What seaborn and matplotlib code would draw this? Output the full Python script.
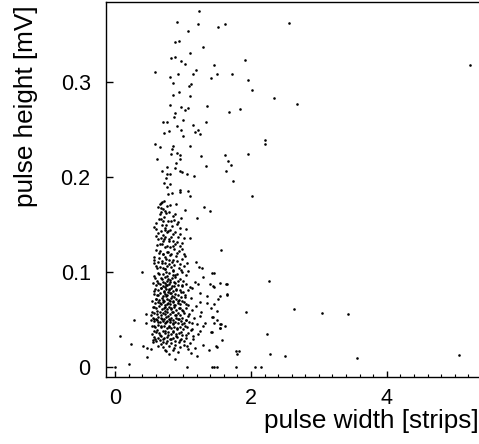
import pandas as pd
import matplotlib
matplotlib.use("Agg")
import matplotlib.pyplot as plt
from matplotlib.ticker import MultipleLocator
import seaborn as sns

# (pulse width [strips], pulse height [mV])

# sparse tail above ~0.17 mV
upper_tail = [
    (1.229, 0.375), (0.917, 0.3635), (1.224, 0.361), (1.512, 0.358), (1.615, 0.361),
    (2.556, 0.3625), (1.073, 0.354), (0.878, 0.342), (0.941, 0.343), (1.298, 0.337),
    (1.098, 0.331), (0.829, 0.325), (0.878, 0.326), (1.907, 0.323), (0.966, 0.3225),
    (1.024, 0.319), (1.463, 0.3175), (5.22, 0.3175), (0.590, 0.310), (1.195, 0.313),
    (1.498, 0.308), (1.722, 0.308), (0.927, 0.308), (1.146, 0.308), (0.815, 0.305),
    (1.410, 0.304), (1.951, 0.302), (0.854, 0.2985), (1.112, 0.298), (1.088, 0.296),
    (0.946, 0.2895), (2.02, 0.292), (0.854, 0.2865), (1.098, 0.285), (2.346, 0.2835),
    (2.678, 0.277), (0.805, 0.2755), (0.971, 0.274), (1.361, 0.2745), (1.078, 0.2725),
    (1.024, 0.271), (1.844, 0.2715), (1.678, 0.268), (0.888, 0.267), (1.34, 0.258),
    (0.873, 0.263), (1.0, 0.26), (0.707, 0.258), (0.766, 0.258), (0.907, 0.254),
    (1.146, 0.255), (0.976, 0.25), (1.224, 0.25), (0.727, 0.246), (0.79, 0.248),
    (1.171, 0.247), (1.254, 0.245), (1.005, 0.243), (2.205, 0.2385), (2.2, 0.2345),
    (0.595, 0.2345), (0.668, 0.232), (0.849, 0.233), (0.839, 0.229), (1.102, 0.233),
    (0.824, 0.2245), (0.907, 0.225), (0.951, 0.2235), (1.615, 0.2235), (1.956, 0.2245),
    (1.259, 0.2225), (0.624, 0.219), (0.961, 0.219), (1.659, 0.217), (0.902, 0.215),
    (1.712, 0.2125), (1.341, 0.2115), (0.771, 0.211), (0.888, 0.21), (0.693, 0.206),
    (0.956, 0.206), (0.99, 0.205), (1.634, 0.2065), (0.771, 0.203), (0.815, 0.203),
    (1.161, 0.2015), (1.059, 0.203), (0.756, 0.199), (1.737, 0.1955), (0.727, 0.1935),
    (0.815, 0.1925), (0.771, 0.189), (0.961, 0.1865), (1.078, 0.185), (0.834, 0.183),
    (0.78, 0.182), (2.01, 0.1795), (0.951, 0.184), (1.098, 0.1795), (0.693, 0.174),
    (0.673, 0.173), (0.722, 0.1745), (0.659, 0.172), (0.902, 0.172), (0.815, 0.1705),
]

# main cluster
core = [
    (1.312, 0.168), (1.395, 0.164), (1.034, 0.165), (0.678, 0.167), (0.737, 0.164),
    (0.756, 0.162), (0.683, 0.163), (0.849, 0.159), (0.966, 0.157), (1.21, 0.1565),
    (0.644, 0.156), (0.707, 0.154), (0.785, 0.154), (0.868, 0.155), (0.907, 0.151),
    (0.571, 0.147), (0.605, 0.145), (0.737, 0.146), (0.815, 0.1445), (1.039, 0.145),
    (0.678, 0.143), (0.761, 0.142), (0.888, 0.142), (0.961, 0.1395), (0.829, 0.137),
    (1.102, 0.1355), (0.634, 0.1345), (0.722, 0.1345), (0.8, 0.1325), (0.917, 0.132),
    (1.02, 0.136), (0.668, 0.13), (0.741, 0.126), (0.854, 0.1275), (1.561, 0.1235),
    (0.61, 0.1235), (0.668, 0.122), (0.78, 0.1215), (0.907, 0.1205), (0.98, 0.1245),
    (0.702, 0.1185), (0.815, 0.1175), (0.649, 0.1145), (0.756, 0.1135), (0.854, 0.113),
    (1.034, 0.1165), (1.185, 0.1105), (0.58, 0.1095), (0.688, 0.109), (0.795, 0.108),
    (0.951, 0.108), (1.239, 0.105), (1.283, 0.104), (0.615, 0.104), (0.737, 0.103),
    (0.854, 0.102), (0.976, 0.102), (0.405, 0.100), (1.429, 0.099), (0.649, 0.098),
    (0.766, 0.096), (0.888, 0.097), (1.049, 0.097), (0.59, 0.0935), (0.698, 0.0925),
    (0.815, 0.092), (0.927, 0.091), (1.224, 0.0875), (1.4, 0.087), (0.634, 0.088),
    (0.746, 0.0865), (0.863, 0.0855), (0.985, 0.0865), (0.683, 0.083), (0.79, 0.082),
    (0.902, 0.0815), (1.439, 0.085), (1.132, 0.083), (0.571, 0.080), (0.717, 0.0785),
    (0.824, 0.078), (0.966, 0.079), (1.244, 0.078), (1.644, 0.0765), (0.639, 0.076),
    (0.756, 0.0745), (0.863, 0.0735), (1.029, 0.0735), (0.61, 0.0715), (0.712, 0.071),
    (0.805, 0.070), (0.927, 0.0695), (1.517, 0.072), (0.668, 0.0675), (0.766, 0.066),
    (0.873, 0.0655), (1.039, 0.0665), (1.351, 0.0675), (0.561, 0.063), (0.717, 0.062),
    (0.824, 0.062), (0.951, 0.0625), (1.195, 0.064), (1.41, 0.0625), (0.615, 0.059),
    (0.741, 0.0585), (0.849, 0.0575), (1.0, 0.0585), (1.502, 0.0585), (0.454, 0.056),
    (0.537, 0.0545), (0.673, 0.055), (0.785, 0.054), (0.898, 0.0545), (1.078, 0.054),
    (1.244, 0.0535), (1.439, 0.0525), (0.571, 0.051), (0.698, 0.0505), (0.815, 0.050),
    (0.932, 0.0505), (1.049, 0.049), (0.283, 0.049), (0.634, 0.047), (0.746, 0.047),
    (0.859, 0.046), (0.99, 0.0455), (1.137, 0.0465), (1.541, 0.0455), (0.463, 0.0465),
    (0.571, 0.043), (0.683, 0.043), (0.795, 0.042), (0.912, 0.0415), (1.029, 0.043),
    (1.302, 0.0435), (1.541, 0.041), (0.62, 0.0385), (0.732, 0.038), (0.854, 0.038),
    (0.976, 0.037), (1.117, 0.0385), (1.429, 0.037), (0.551, 0.0345), (0.663, 0.034),
    (0.78, 0.0335), (0.893, 0.033), (1.049, 0.034), (1.22, 0.035), (0.073, 0.033),
    (0.59, 0.030), (0.707, 0.0295), (0.824, 0.029), (0.951, 0.028), (1.146, 0.0295),
    (0.229, 0.0245), (0.561, 0.026), (0.678, 0.0245), (0.756, 0.025), (0.888, 0.0235),
    (1.01, 0.023), (1.302, 0.0235), (0.415, 0.022), (0.473, 0.020), (0.537, 0.019),
    (0.732, 0.018), (0.854, 0.0175), (1.073, 0.019), (1.39, 0.018), (1.488, 0.022),
    (0.478, 0.011), (0.795, 0.014), (1.21, 0.012), (0.878, 0.0085),
    # denser fill
    (0.63, 0.168), (0.70, 0.166), (0.76, 0.169), (0.66, 0.161), (0.72, 0.158),
    (0.80, 0.163), (0.88, 0.161), (0.61, 0.152), (0.69, 0.150), (0.75, 0.149),
    (0.84, 0.148), (0.92, 0.153), (0.64, 0.141), (0.71, 0.139), (0.78, 0.143),
    (0.86, 0.140), (0.95, 0.146), (0.68, 0.1555), (0.82, 0.1535), (0.74, 0.1445),
    (0.60, 0.138), (0.67, 0.136), (0.73, 0.137), (0.79, 0.135), (0.85, 0.133),
    (0.93, 0.137), (0.99, 0.131), (0.62, 0.128), (0.69, 0.129), (0.76, 0.127),
    (0.81, 0.126), (0.88, 0.129), (0.96, 0.127), (0.65, 0.120), (0.71, 0.119),
    (0.77, 0.121), (0.83, 0.119), (0.90, 0.117), (1.01, 0.119), (0.58, 0.116),
    (0.74, 0.116), (0.87, 0.124), (0.70, 0.1325), (0.94, 0.122),
    (0.57, 0.113), (0.63, 0.111), (0.69, 0.112), (0.74, 0.110), (0.79, 0.113),
    (0.84, 0.111), (0.91, 0.112), (0.98, 0.114), (1.06, 0.110), (0.60, 0.106),
    (0.66, 0.105), (0.71, 0.104), (0.77, 0.106), (0.82, 0.105), (0.87, 0.107),
    (0.94, 0.104), (1.02, 0.106), (0.64, 0.099), (0.70, 0.098), (0.75, 0.100),
    (0.80, 0.099), (0.86, 0.101), (0.91, 0.098), (0.99, 0.100), (1.08, 0.101),
    (0.58, 0.096), (0.67, 0.094), (0.73, 0.095), (0.78, 0.093), (0.84, 0.094),
    (0.89, 0.095), (0.96, 0.093), (0.62, 0.091), (0.71, 0.090), (0.76, 0.091),
    (0.81, 0.089), (0.87, 0.090), (1.00, 0.091), (0.74, 0.103), (0.85, 0.097),
    (0.56, 0.088), (0.61, 0.086), (0.66, 0.087), (0.70, 0.085), (0.73, 0.088),
    (0.77, 0.086), (0.80, 0.087), (0.84, 0.085), (0.88, 0.088), (0.93, 0.086),
    (0.98, 0.085), (1.04, 0.087), (1.10, 0.084), (0.59, 0.082), (0.64, 0.081),
    (0.68, 0.083), (0.72, 0.080), (0.75, 0.082), (0.79, 0.081), (0.82, 0.083),
    (0.86, 0.080), (0.90, 0.082), (0.95, 0.081), (1.00, 0.079), (1.07, 0.081),
    (0.57, 0.077), (0.62, 0.076), (0.66, 0.078), (0.70, 0.075), (0.74, 0.077),
    (0.77, 0.076), (0.81, 0.078), (0.84, 0.075), (0.88, 0.077), (0.92, 0.076),
    (0.97, 0.074), (1.03, 0.076), (0.60, 0.072), (0.65, 0.071), (0.69, 0.073),
    (0.72, 0.070), (0.76, 0.072), (0.79, 0.071), (0.83, 0.073), (0.86, 0.070),
    (0.90, 0.072), (0.94, 0.071), (0.99, 0.070), (1.12, 0.073), (0.74, 0.084),
    (0.78, 0.079),
    (0.55, 0.069), (0.59, 0.067), (0.63, 0.068), (0.67, 0.066), (0.71, 0.068),
    (0.74, 0.065), (0.78, 0.067), (0.81, 0.066), (0.85, 0.068), (0.88, 0.065),
    (0.92, 0.067), (0.96, 0.066), (1.01, 0.068), (1.08, 0.065), (0.57, 0.063),
    (0.61, 0.062), (0.65, 0.064), (0.69, 0.061), (0.73, 0.063), (0.76, 0.061),
    (0.80, 0.063), (0.83, 0.061), (0.87, 0.063), (0.90, 0.060), (0.94, 0.062),
    (0.98, 0.060), (1.05, 0.062), (1.14, 0.060), (0.54, 0.058), (0.58, 0.057),
    (0.62, 0.056), (0.66, 0.058), (0.70, 0.057), (0.74, 0.056), (0.77, 0.058),
    (0.81, 0.056), (0.84, 0.058), (0.88, 0.055), (0.92, 0.057), (0.96, 0.055),
    (1.02, 0.057), (1.09, 0.056), (0.56, 0.052), (0.60, 0.051), (0.64, 0.053),
    (0.68, 0.052), (0.72, 0.051), (0.75, 0.053), (0.79, 0.051), (0.82, 0.052),
    (0.86, 0.050), (0.90, 0.052), (0.94, 0.051), (0.99, 0.052), (1.05, 0.050),
    (1.17, 0.052),
    (0.53, 0.049), (0.58, 0.048), (0.62, 0.049), (0.66, 0.047), (0.70, 0.048),
    (0.74, 0.046), (0.77, 0.048), (0.81, 0.047), (0.85, 0.045), (0.89, 0.047),
    (0.93, 0.046), (0.97, 0.048), (1.02, 0.046), (1.09, 0.047), (1.20, 0.045),
    (0.55, 0.043), (0.59, 0.042), (0.64, 0.044), (0.68, 0.042), (0.72, 0.043),
    (0.76, 0.041), (0.80, 0.043), (0.83, 0.041), (0.87, 0.042), (0.91, 0.040),
    (0.95, 0.042), (1.00, 0.040), (1.06, 0.042), (1.14, 0.040), (0.57, 0.038),
    (0.61, 0.037), (0.65, 0.036), (0.70, 0.038), (0.74, 0.036), (0.78, 0.037),
    (0.82, 0.035), (0.86, 0.037), (0.90, 0.035), (0.94, 0.036), (0.99, 0.034),
    (1.08, 0.036), (1.25, 0.038), (0.58, 0.032), (0.63, 0.031), (0.68, 0.033),
    (0.72, 0.031), (0.77, 0.032), (0.81, 0.030), (0.86, 0.031), (0.91, 0.032),
    (0.97, 0.030), (1.04, 0.031), (1.15, 0.033),
    (0.56, 0.028), (0.61, 0.027), (0.66, 0.028), (0.71, 0.026), (0.76, 0.027),
    (0.82, 0.025), (0.88, 0.027), (0.94, 0.026), (1.02, 0.027), (1.11, 0.025),
    (0.64, 0.022), (0.70, 0.021), (0.79, 0.022), (0.87, 0.020), (0.96, 0.021),
    (1.06, 0.022), (1.18, 0.020), (0.75, 0.017), (0.93, 0.016), (1.12, 0.015),
    (1.30, 0.095), (1.36, 0.075), (1.45, 0.066), (1.55, 0.088), (1.27, 0.058),
    (1.33, 0.046), (1.50, 0.050), (1.62, 0.043), (1.18, 0.090), (1.25, 0.068),
    (1.45, 0.099), (1.46, 0.084), (1.65, 0.087), (1.65, 0.076), (1.54, 0.075),
    (1.43, 0.0525), (1.46, 0.046), (1.56, 0.045), (1.55, 0.041), (1.42, 0.037),
    (1.58, 0.028), (1.50, 0.021),
]

# wide pulses to the right
right_tail = [
    (2.263, 0.091), (1.634, 0.0875), (2.629, 0.061), (1.922, 0.0575), (3.039, 0.0565),
    (3.429, 0.0555), (2.234, 0.0345), (1.785, 0.017), (1.79, 0.014), (2.278, 0.014),
    (2.498, 0.012), (3.561, 0.009), (5.063, 0.0125), (1.82, 0.017),
]

# points sitting on zero height
baseline = [
    (0.0, 0.0), (0.21, 0.003), (1.059, 0.0), (1.424, 0.0), (1.463, 0.0), (1.498, 0.0),
    (1.78, 0.0), (2.063, 0.0), (2.151, 0.0),
]

pts = upper_tail + core + right_tail + baseline
df = pd.DataFrame(pts, columns=["width", "height"])

sns.set_style("ticks")
plt.rcParams["font.family"] = ["Liberation Sans", "DejaVu Sans"]
plt.rcParams["text.color"] = "black"
plt.rcParams["axes.labelcolor"] = "black"
plt.rcParams["xtick.color"] = "black"
plt.rcParams["ytick.color"] = "black"

fig = plt.figure(figsize=(4.79, 4.44), dpi=100)
ax = fig.add_axes([106 / 479, 67 / 444, 376 / 479, 375 / 444])

sns.scatterplot(data=df, x="width", y="height", color="black", s=3.5,
                linewidth=0, marker="o", ax=ax, legend=False)

ax.set_xlim(-0.132, 5.40)
ax.set_ylim(-0.0105, 0.3842)

ax.xaxis.set_major_locator(MultipleLocator(2))
ax.xaxis.set_minor_locator(MultipleLocator(0.2))
ax.set_yticks([0, 0.1, 0.2, 0.3])
ax.set_yticklabels(["0", "0.1", "0.2", "0.3"])

ax.tick_params(axis="x", which="major", direction="in", length=4.5, width=1,
               labelsize=15.5, pad=8)
ax.tick_params(axis="x", which="minor", direction="in", length=2.5, width=0.8)
ax.tick_params(axis="y", which="major", direction="in", length=5, width=1,
               labelsize=15.5, pad=11)

for s in ax.spines.values():
    s.set_linewidth(1.0)
    s.set_color("black")

ax.set_xlabel("pulse width [strips]", fontsize=18.8, ha="right")
ax.xaxis.set_label_coords(0.992, -0.086)
ax.set_ylabel("pulse height [mV]", fontsize=18.8, loc="top")
ax.yaxis.set_label_coords(-0.18, 0.992)

fig.savefig("out.png", dpi=100)
